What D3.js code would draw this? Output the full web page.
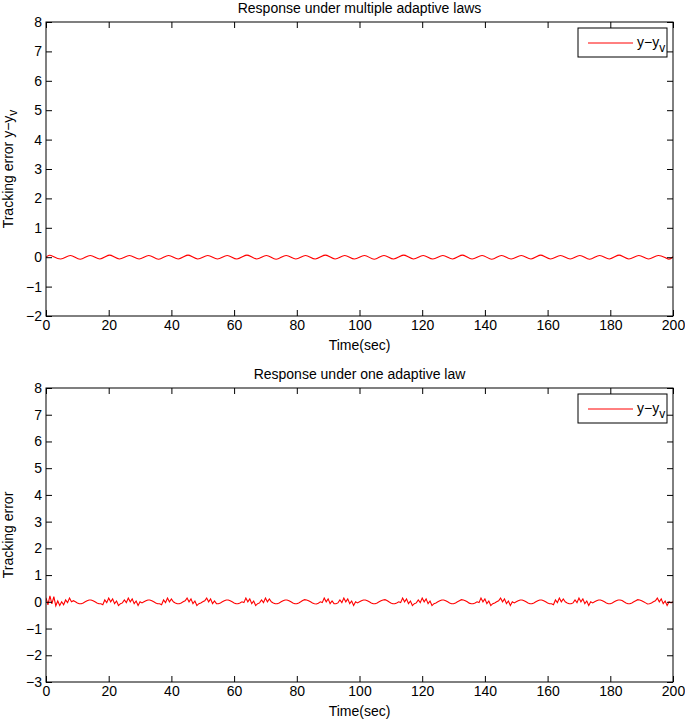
<!DOCTYPE html>
<html><head><meta charset="utf-8">
<script src="https://cdn.jsdelivr.net/npm/d3@7"></script>
<style>
body{margin:0;background:#fff;}
svg text{font-family:"Liberation Sans",Arial,Helvetica,sans-serif;font-size:14px;fill:#000;}
</style></head>
<body>
<svg id="c" width="685" height="719"></svg>
<script>
// ---- data ----
const xTicks = [0,20,40,60,80,100,120,140,160,180,200];
const yTicksTop = [-2,-1,0,1,2,3,4,5,6,7,8];
const yTicksBottom = [-3,-2,-1,0,1,2,3,4,5,6,7,8];
const titles = ["Response under multiple adaptive laws","Response under one adaptive law"];
const xLabel = "Time(sec)";
const legendText = "y−y";

// top: smooth oscillation, extrema times (s) and values
const topT = [0,1.6,4.7,7.8,10.9,14.1,17.2,20.3,23.4,26.6,29.7,32.8,35.9,39.1,42.2,45.3,48.4,51.6,54.7,57.8,60.9,64.1,67.2,70.3,73.4,76.6,79.7,82.8,85.9,89.1,92.2,95.3,98.4,101.6,104.7,107.8,110.9,114.1,117.2,120.3,123.4,126.6,129.7,132.8,135.9,139.1,142.2,145.3,148.4,151.6,154.7,157.8,160.9,164.1,167.2,170.3,173.4,176.6,179.7,182.8,185.9,189.1,192.2,195.3,198.4,200];
const topV = [0,0.06,-0.06,0.06,-0.07,0.06,-0.06,0.07,-0.06,0.06,-0.06,0.06,-0.07,0.06,-0.06,0.07,-0.06,0.06,-0.06,0.06,-0.06,0.07,-0.06,0.06,-0.07,0.06,-0.06,0.06,-0.06,0.07,-0.06,0.06,-0.06,0.06,-0.07,0.06,-0.06,0.07,-0.06,0.06,-0.06,0.06,-0.06,0.07,-0.06,0.06,-0.07,0.06,-0.06,0.06,-0.06,0.07,-0.06,0.06,-0.06,0.06,-0.07,0.06,-0.06,0.07,-0.06,0.06,-0.06,0.06,-0.06,0.02];

// bottom: sampled every 0.625 s
const bottomStep = 0.625;
const bottomV = [
.15,-.11,.22,-.08,.19,-.15,.03,-.14,0,-.11,
.07,-.03,.14,0,.04,0,-.04,-.07,-.07,-.04,
0,.04,.07,.07,.04,0,-.04,-.07,-.07,-.11,
.07,-.03,.14,0,.11,-.07,.03,-.14,-.07,-.04,
.07,-.03,.14,0,.11,-.07,.03,-.14,0,-.04,
0,.04,.07,.07,.04,0,-.04,-.07,-.07,-.11,
.07,-.03,.14,0,.11,0,-.04,-.07,-.07,-.04,
0,.04,.14,0,.11,-.07,.03,-.14,-.07,-.04,
0,.04,.14,0,.11,-.07,.03,-.07,-.07,-.04,
0,.04,.07,.07,.04,0,-.04,-.07,-.07,-.04,
0,-.03,.14,0,.11,-.07,.03,-.14,-.07,-.04,
.07,-.03,.14,0,.11,0,-.04,-.07,-.07,-.04,
0,.04,.07,.07,.04,0,-.04,-.07,-.07,-.04,
0,.05,.08,.07,.04,0,-.04,-.07,-.08,-.05,
0,-.03,.14,0,.11,-.07,.03,-.07,-.07,-.04,
.07,-.03,.14,0,.11,-.07,.03,-.14,0,-.04,
0,.04,.07,.07,.04,0,-.04,-.07,-.07,-.04,
0,.04,.07,.08,.05,0,-.04,-.07,-.07,-.04,
0,-.03,.14,0,.11,-.07,.03,-.14,-.07,-.04,
.07,-.03,.14,0,.11,-.07,.03,-.14,-.07,-.04,
0,.04,.07,.07,.04,0,-.04,-.07,-.07,-.04,
0,.04,.08,.07,.04,0,-.05,-.07,-.07,-.04,
0,-.03,.14,0,.11,-.07,.03,-.14,-.07,-.04,
0,.04,.14,0,.11,-.07,.03,-.14,0,-.04,
0,.04,.07,.07,.04,0,-.04,-.07,-.07,-.04,
0,.04,.07,.07,.04,0,-.04,-.07,-.07,-.11,
.07,-.03,.14,0,.11,0,-.04,-.07,-.07,-.04,
.07,-.03,.14,0,.11,-.07,.03,-.14,0,-.04,
0,.04,.07,.07,.04,0,-.04,-.07,-.07,-.04,
0,.04,.07,.07,.05,0,-.04,-.07,-.07,-.04,
0,.04,.08,.07,.04,0,-.04,-.08,-.07,-.04,
0,.04,.14,0,.11,-.07,.03,-.14,0,-.04,
0];

// ---- drawing ----
const svg = d3.select("#c");
const L = 46, R = 673, TICK = 6;

const panels = [
  {top:22, bottom:316, dom:[-2,8], ticks:yTicksTop, title:titles[0], ylab:"top",
   data: topT.map((t,i)=>[t, topV[i]]), curve: d3.curveNatural},
  {top:388, bottom:682, dom:[-3,8], ticks:yTicksBottom, title:titles[1], ylab:"bottom",
   data: bottomV.map((v,i)=>[i*bottomStep, v]), curve: d3.curveLinear}
];

panels.forEach((p, k) => {
  const x = d3.scaleLinear().domain([0,200]).range([L,R]);
  const y = d3.scaleLinear().domain(p.dom).range([p.bottom,p.top]);
  const g = svg.append("g");

  const clipId = "clip"+k;
  svg.append("clipPath").attr("id",clipId).append("rect")
    .attr("x",L).attr("y",p.top).attr("width",R-L).attr("height",p.bottom-p.top);

  // curve
  g.append("path").datum(p.data)
    .attr("clip-path","url(#"+clipId+")")
    .attr("fill","none").attr("stroke","#ff0000").attr("stroke-width",1.1)
    .attr("d", d3.line().x(d=>x(d[0])).y(d=>y(d[1])).curve(p.curve));

  // axes with inward ticks
  const ab = g.append("g").attr("transform",`translate(0,${p.bottom})`)
    .call(d3.axisBottom(x).tickValues(xTicks).tickSize(-TICK).tickPadding(4).tickFormat(d3.format("d")));
  const at = g.append("g").attr("transform",`translate(0,${p.top})`)
    .call(d3.axisTop(x).tickValues(xTicks).tickSize(-TICK).tickFormat(""));
  const al = g.append("g").attr("transform",`translate(${L},0)`)
    .call(d3.axisLeft(y).tickValues(p.ticks).tickSize(-TICK).tickPadding(4)
      .tickFormat(d => d < 0 ? "−"+Math.abs(d) : String(d)));
  const ar = g.append("g").attr("transform",`translate(${R},0)`)
    .call(d3.axisRight(y).tickValues(p.ticks).tickSize(-TICK).tickFormat(""));
  [ab,at,al,ar].forEach(a => {
    a.select(".domain").remove();
    a.selectAll("line").attr("stroke","#000");
    a.selectAll("text").attr("font-size",14).attr("fill","#000")
      .style("font-family",'"Liberation Sans",Arial,sans-serif');
  });

  // frame
  g.append("rect").attr("x",L).attr("y",p.top).attr("width",R-L).attr("height",p.bottom-p.top)
    .attr("fill","none").attr("stroke","#000").attr("stroke-width",1);

  // title
  g.append("text").attr("x",(L+R)/2).attr("y",p.top-9).attr("text-anchor","middle").text(p.title);
  // x label
  g.append("text").attr("x",(L+R)/2).attr("y",p.bottom+34).attr("text-anchor","middle").text(xLabel);
  // y label
  const yl = g.append("text").attr("transform",`translate(13,${(p.top+p.bottom)/2}) rotate(-90)`)
    .attr("text-anchor","middle");
  if (p.ylab === "top") {
    yl.append("tspan").text("Tracking error y−y");
    yl.append("tspan").attr("font-size",12).attr("dy",4).text("v");
  } else {
    yl.text("Tracking error");
  }

  // legend
  const lx = 578, ly = p.top + 6, lw = 89, lh = 29;
  g.append("rect").attr("x",lx).attr("y",ly).attr("width",lw).attr("height",lh)
    .attr("fill","#fff").attr("stroke","#000").attr("stroke-width",1);
  g.append("line").attr("x1",588).attr("x2",633).attr("y1",ly+15).attr("y2",ly+15)
    .attr("stroke","#ff0000").attr("stroke-width",1);
  const lt = g.append("text").attr("x",637).attr("y",ly+19);
  lt.append("tspan").text(legendText);
  lt.append("tspan").attr("font-size",12).attr("dy",5).text("v");
});
</script>
</body></html>
